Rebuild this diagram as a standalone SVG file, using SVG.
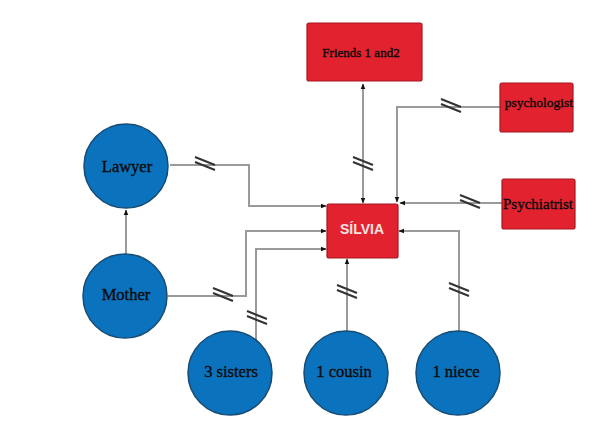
<svg xmlns="http://www.w3.org/2000/svg" width="599" height="423" viewBox="0 0 599 423">
<style>
.rn{fill:#e2232f;stroke:#a5161f;stroke-width:1.2}
.cn{fill:#0b72bd;stroke:#164b73;stroke-width:1.5}
.lbl{font-family:"Liberation Serif","Times New Roman",serif;fill:#0a0a0a;stroke:#0a0a0a;stroke-width:0.35;text-anchor:middle}
.ln{fill:none;stroke:#9a9a9a;stroke-width:2}
.hs{stroke:#333;stroke-width:2;fill:none}
</style>
<defs>
<marker id="ah" viewBox="0 0 10 10" refX="9" refY="5" markerWidth="6" markerHeight="6" orient="auto-start-reverse" markerUnits="userSpaceOnUse">
<path d="M0,1 L10,5 L0,9 Z" fill="#111"/>
</marker>
<g id="hash"><path class="hs" d="M-10,-6 L10,2 M-10,-1 L10,7"/></g>
</defs>
<rect width="599" height="423" fill="#fff"/>
<g id="connectors">
<path class="ln" d="M363,84 V203" marker-start="url(#ah)" marker-end="url(#ah)"/>
<path class="ln" d="M500,107 H397 V202" marker-end="url(#ah)"/>
<path class="ln" d="M502,203 H400" marker-end="url(#ah)"/>
<path class="ln" d="M459,331 V231 H399" marker-end="url(#ah)"/>
<path class="ln" d="M347,331 V259" marker-end="url(#ah)"/>
<path class="ln" d="M256,340 V249 H326" marker-end="url(#ah)"/>
<path class="ln" d="M168,296 H246 V231 H326" marker-end="url(#ah)"/>
<path class="ln" d="M170,165 H249 V206 H326" marker-end="url(#ah)"/>
<path class="ln" d="M126,254 V210" marker-end="url(#ah)"/>
<use href="#hash" x="363" y="163"/>
<use href="#hash" x="451" y="105"/>
<use href="#hash" x="470" y="201"/>
<use href="#hash" x="459" y="289"/>
<use href="#hash" x="347" y="291"/>
<use href="#hash" x="257" y="317"/>
<use href="#hash" x="223" y="294"/>
<use href="#hash" x="205" y="163"/>
</g>
<g id="friends"><rect class="rn" x="307" y="23" width="115" height="58" rx="2"/><text class="lbl" x="361" y="57" font-size="13">Friends 1 and2</text></g>
<g id="psychologist"><rect class="rn" x="500" y="83" width="73" height="49" rx="2"/><text class="lbl" x="539" y="107" font-size="13.5">psychologist</text></g>
<g id="psychiatrist"><rect class="rn" x="502" y="179" width="73" height="50" rx="2"/><text class="lbl" x="538" y="209" font-size="15">Psychiatrist</text></g>
<g id="silvia"><rect class="rn" x="327" y="204" width="71" height="54" rx="2"/><text x="362" y="234" font-size="14" font-weight="bold" fill="#fbe3e3" text-anchor="middle" font-family="Liberation Sans, Arial, sans-serif">SÍLVIA</text></g>
<g id="lawyer"><circle class="cn" cx="126" cy="166" r="42"/><text class="lbl" x="127" y="172" font-size="16.5">Lawyer</text></g>
<g id="mother"><circle class="cn" cx="125" cy="296" r="42"/><text class="lbl" x="126" y="300" font-size="16.5">Mother</text></g>
<g id="sisters"><circle class="cn" cx="230" cy="373" r="42"/><text class="lbl" x="231" y="377" font-size="16.5">3 sisters</text></g>
<g id="cousin"><circle class="cn" cx="346" cy="373" r="42"/><text class="lbl" x="344" y="377" font-size="16.5">1 cousin</text></g>
<g id="niece"><circle class="cn" cx="458" cy="373" r="42"/><text class="lbl" x="456" y="377" font-size="16.5">1 niece</text></g>
</svg>
